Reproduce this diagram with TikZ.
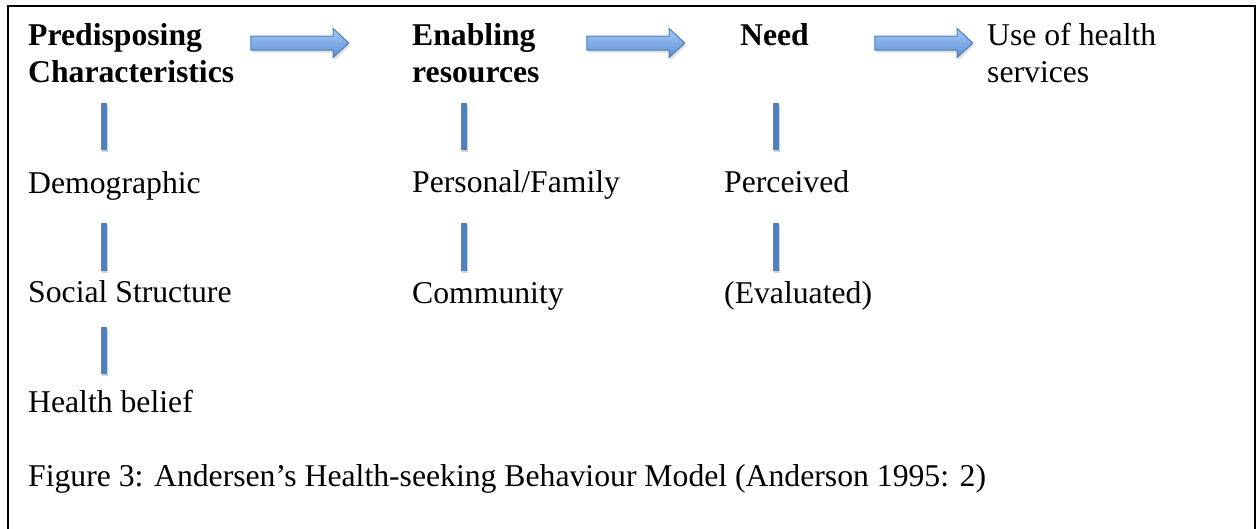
\documentclass[tikz,border=0pt]{standalone}
\usepackage{fontspec}
\setmainfont{Liberation Serif}
\usepackage{xcolor}
\usetikzlibrary{
shapes.arrows,
shadows
}
\definecolor{barblue}{HTML}{4F81BD}
\definecolor{arrowedge}{HTML}{4A7EBB}
\definecolor{arrowtop}{HTML}{A7C8F4}
\definecolor{arrowbottom}{HTML}{5E90D6}

\begin{document}
\begin{tikzpicture}[
    x=1pt, y=-1pt,
    txt/.style={anchor=base west, inner sep=0pt, align=left, font=\fontsize{31.7}{36.5}\selectfont},
    head/.style={txt, font=\fontsize{31.7}{36.5}\selectfont\bfseries},
    flow/.style={single arrow, draw=arrowedge, line width=1pt, top color=arrowtop, bottom color=arrowbottom,
      minimum height=98pt, inner xsep=0pt, inner ysep=6.5pt,
      single arrow head extend=7.5pt, single arrow tip angle=86,
      drop shadow={shadow xshift=1.5pt, shadow yshift=-2.5pt, opacity=0.25}},
    link/.style={draw=barblue, line width=6pt,
      preaction={draw=black, opacity=0.18, line width=6pt, transform canvas={shift={(1pt,-2pt)}}}}]
  \useasboundingbox (0,0) rectangle (1257,528);
  % frame, open at the bottom
  \draw[line width=2pt] (8,540) -- (8,6) -- (1255,6) -- (1255,540);

  % top row (base = last line)
  \node[head] (pred) at (28,82) {Predisposing\\Characteristics};
  \node[head] (enab) at (412,82) {Enabling\\resources};
  \node[head] (need) at (740,45) {Need};
  \node[txt] (use) at (987,82) {Use of health\\services};
  \node[flow] (a1) at (296,43) {};
  \node[flow] (a2) at (632,43) {};
  \node[flow] (a3) at (920,43) {};

  % columns
  \node[txt] (demo) at (28,193) {Demographic};
  \node[txt] (social) at (28,302) {Social Structure};
  \node[txt] (belief) at (28,412) {Health belief};
  \node[txt] (perso) at (412,192) {Personal/Family};
  \node[txt] (comm) at (412,303) {Community};
  \node[txt] (perc) at (724,192) {Perceived};
  \node[txt] (eval) at (724,303) {(Evaluated)};

  \draw[link] ([shift={(76,-43)}]demo.base west) -- ++(0,-47);
  \draw[link] ([shift={(76,-31)}]social.base west) -- ++(0,-48);
  \draw[link] ([shift={(76,-38)}]belief.base west) -- ++(0,-47);
  \draw[link] ([shift={(52,-42)}]perso.base west) -- ++(0,-47);
  \draw[link] ([shift={(52,-32)}]comm.base west) -- ++(0,-48);
  \draw[link] ([shift={(52,-42)}]perc.base west) -- ++(0,-47);
  \draw[link] ([shift={(52,-32)}]eval.base west) -- ++(0,-48);

  \node[txt] (caption) at (28,486) {Figure 3: Andersen’s Health-seeking Behaviour Model (Anderson 1995: 2)};
\end{tikzpicture}
\end{document}
